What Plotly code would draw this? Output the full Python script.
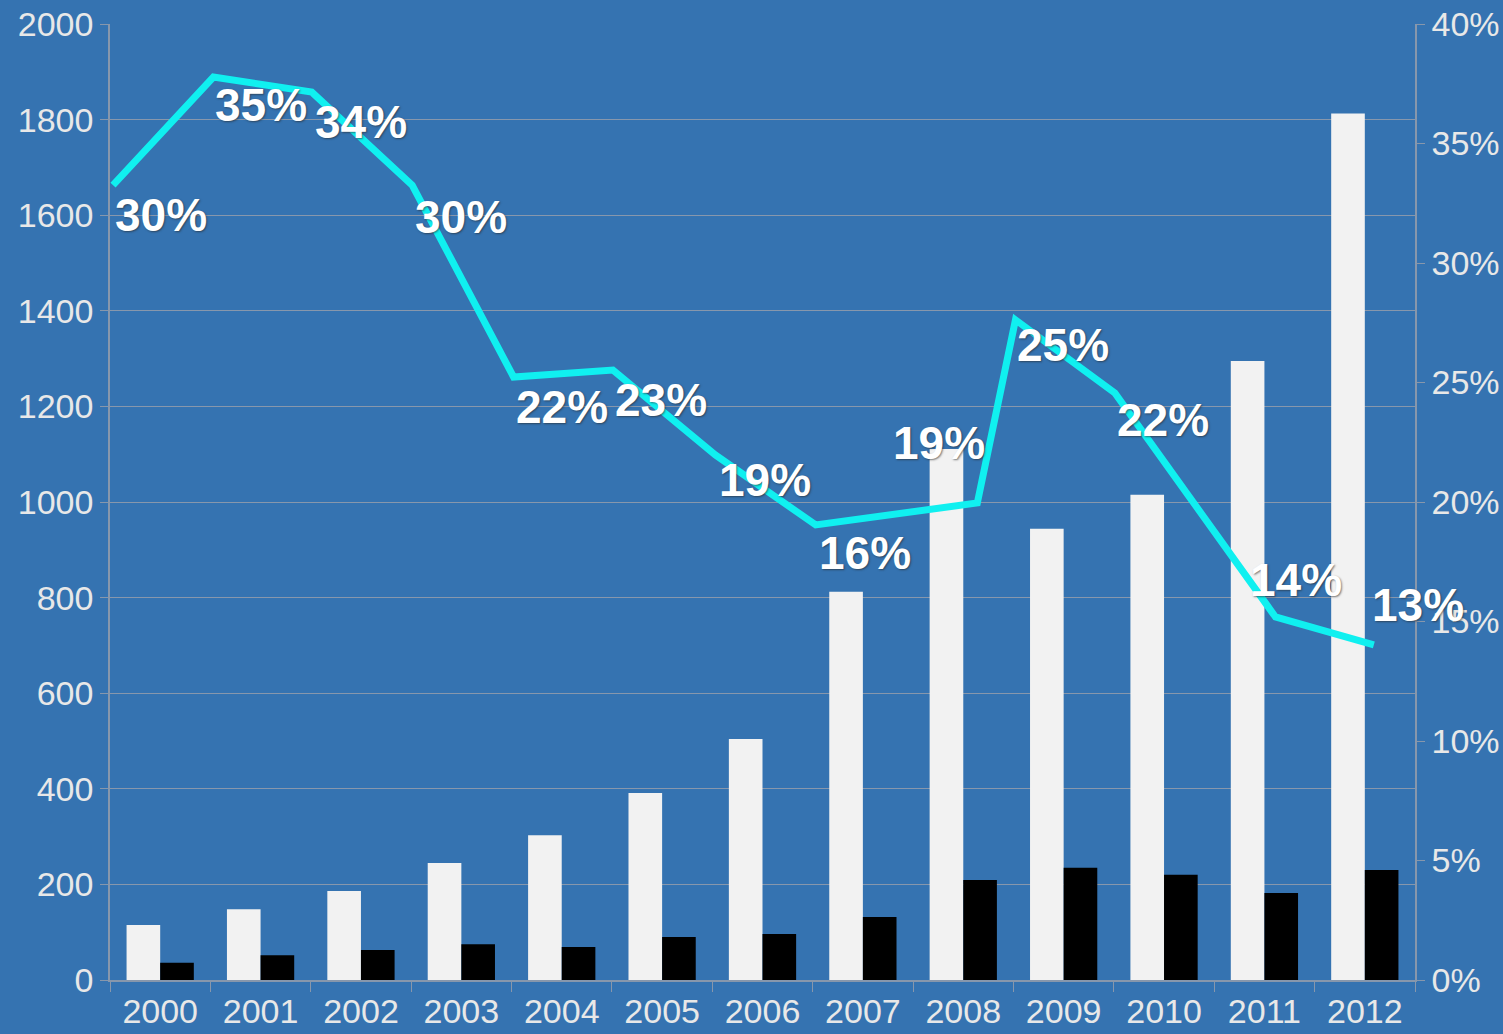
import plotly.graph_objects as go

years = ["2000", "2001", "2002", "2003", "2004", "2005", "2006",
         "2007", "2008", "2009", "2010", "2011", "2012"]
white_values = [115, 148, 186, 245, 303, 391, 504, 812, 1111, 944, 1015, 1295, 1813]
black_values = [36, 52, 63, 75, 69, 90, 96, 132, 209, 235, 220, 182, 230]
# line drawn as an overlay: horizontal positions (in year units) and heights (share)
line_x = [1999.53, 2000.53, 2001.51, 2002.51, 2003.52, 2004.51, 2005.53,
          2006.53, 2008.14, 2008.52, 2009.51, 2011.11, 2012.09]
line_share = [0.3326, 0.3778, 0.3715, 0.3326, 0.2523, 0.2552, 0.2197,
              0.1904, 0.1996, 0.2762, 0.2456, 0.1519, 0.1402]
line_labels = ["30%", "35%", "34%", "30%", "22%", "23%", "19%",
               "16%", "19%", "25%", "22%", "14%", "13%"]

# label offsets in pixels (style, not data)
label_dx = [0, 0, 1, 1, 0, 0, 2, 1, -86, 0, 0, -27, -4]
label_dy = [-30, -28, -30, -32, -30, -30, -25, -28, 60, -25, -27, 37, 40]

BG = "#3573B1"
GRID = "#8797AC"
TXT = "#E8E8E8"
FONT = "Liberation Sans, Arial, sans-serif"

fig = go.Figure()
fig.add_trace(go.Bar(x=years, y=white_values, marker=dict(color="#F2F2F2", line=dict(width=0)),
                     name="white"))
fig.add_trace(go.Bar(x=years, y=black_values, marker=dict(color="#000000", line=dict(width=0)),
                     name="black"))
fig.add_trace(go.Scatter(x=line_x, y=line_share, mode="lines", xaxis="x2", yaxis="y2",
                         line=dict(color="#10F0F0", width=7), name="share"))

for xv, yv, t, dx, dy in zip(line_x, line_share, line_labels, label_dx, label_dy):
    fig.add_annotation(x=xv, y=yv, xref="x2", yref="y2", text=t, showarrow=False,
                       xanchor="left", yanchor="middle", xshift=dx, yshift=dy,
                       font=dict(family=FONT, size=46, color="#FFFFFF", weight="bold",
                                 shadow="1px 1px 2px rgba(40,40,40,0.6)"))

fig.update_layout(
    width=1503, height=1034,
    margin=dict(l=110, r=88, t=24, b=54, autoexpand=False),
    paper_bgcolor=BG, plot_bgcolor=BG,
    barmode="group", bargap=0.33, bargroupgap=0,
    showlegend=False,
    font=dict(family=FONT, size=34, color=TXT),
    xaxis=dict(type="category", tickson="boundaries", ticks="outside", ticklen=10,
               tickcolor=GRID, showline=True, linecolor=GRID, linewidth=1.5,
               showgrid=False, tickfont=dict(size=34, color=TXT),
               range=[-0.5, 12.5], automargin=False),
    xaxis2=dict(overlaying="x", range=[1999.5, 2012.5], visible=False),
    yaxis=dict(range=[0, 2000], dtick=200, showgrid=True, gridcolor=GRID, gridwidth=1.2,
               showline=True, linecolor=GRID, linewidth=1.5, ticks="outside", ticklen=8,
               tickcolor=GRID, zeroline=False, tickfont=dict(size=34, color=TXT),
               automargin=False),
    yaxis2=dict(overlaying="y", side="right", range=[0, 0.40], dtick=0.05, tickformat=".0%",
                showgrid=False, showline=True, linecolor=GRID, linewidth=1.5,
                ticks="outside", ticklen=8, tickcolor=GRID, zeroline=False,
                tickfont=dict(size=34, color=TXT), automargin=False),
)

fig.write_html(
    "out.html",
    config={"displayModeBar": False},
    post_script="document.body.style.margin='0';document.body.style.padding='0';"
                "document.body.style.background='" + BG + "';"
                "document.body.style.overflow='hidden';",
)
